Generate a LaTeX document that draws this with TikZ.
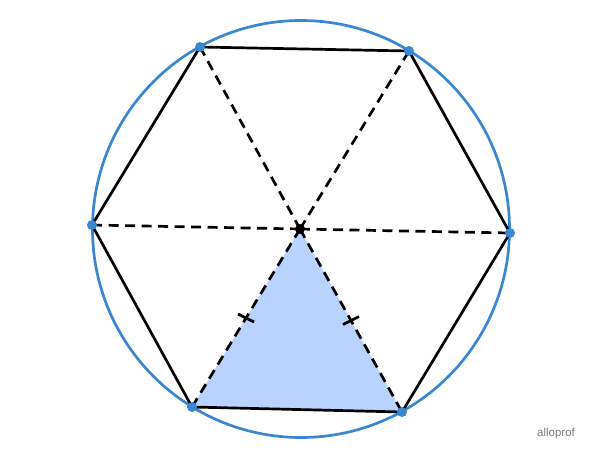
\documentclass[tikz,border=0pt]{standalone}
\usepackage{fontspec}
\setmainfont{Liberation Sans}
\usetikzlibrary{calc}
\definecolor{circblue}{HTML}{3A86CF}
\definecolor{trifill}{HTML}{B8D3FE}
\definecolor{logogray}{HTML}{7A7A7A}
\begin{document}
\begin{tikzpicture}[x=1pt,y=-1pt,
  edge/.style={black,line width=2.7pt,line join=round},
  radius line/.style={black,line width=2.7pt,dash pattern=on 10pt off 6.5pt},
  vdot/.style={circle,fill=circblue,inner sep=0pt,minimum size=10pt},
  cdot/.style={circle,fill=black,inner sep=0pt,minimum size=10pt},
  tick/.style={black,line width=2.7pt}]
\useasboundingbox (0,0) rectangle (600,459);
\coordinate (O) at (300,229);
\coordinate (A) at (200,47);
\coordinate (B) at (409,51);
\coordinate (C) at (510,233);
\coordinate (D) at (402,412);
\coordinate (E) at (192,407);
\coordinate (F) at (92,225);
\fill[trifill] (O) -- (D) -- (E) -- cycle;
\draw[circblue,line width=2.7pt] (301,229) circle (208.5);
\draw[edge] (A) -- (B) -- (C) -- (D) -- (E) -- (F) -- cycle;
\foreach \v in {A,B,C,D,E,F} \draw[radius line] (O) -- (\v);
\draw[tick] ($(O)!0.5!(E)+(-8,-4)$) -- ($(O)!0.5!(E)+(8,4)$);
\draw[tick] ($(O)!0.5!(D)+(-8,4)$) -- ($(O)!0.5!(D)+(8,-4)$);
\foreach \v in {A,B,C,D,E,F} \node[vdot] (n\v) at (\v) {};
\node[cdot] (nO) at (O) {};
\node[text=logogray,font=\fontsize{11.5}{13}\selectfont] (logo) at (556,434) {alloprof};
\end{tikzpicture}
\end{document}
